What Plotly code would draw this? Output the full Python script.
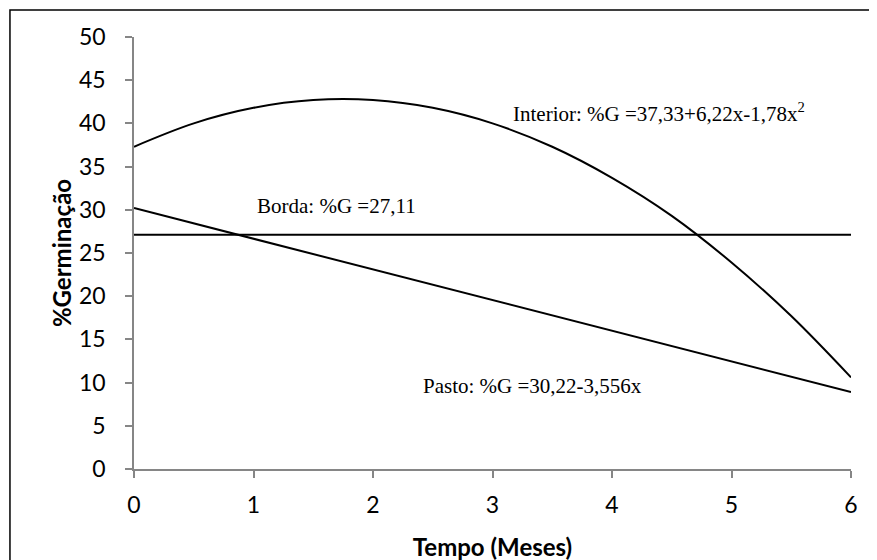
import plotly.graph_objects as go

# Data
tempo = [0, 0.5, 1, 1.5, 2, 2.5, 3, 3.5, 4, 4.5, 5, 5.5, 6]
interior = [37.3, 40.0, 41.8, 42.7, 42.7, 41.8, 40.0, 37.3, 33.7, 29.3, 23.9, 17.7, 10.6]
pasto_x = [0, 6]
pasto = [30.2, 8.9]
borda_x = [0, 6]
borda = [27.1, 27.1]

x_ticks = [0, 1, 2, 3, 4, 5, 6]
y_ticks = [0, 5, 10, 15, 20, 25, 30, 35, 40, 45, 50]

label_interior = "Interior: %G =37,33+6,22x-1,78x<sup>2</sup>"
label_borda = "Borda: %G =27,11"
label_pasto = "Pasto: %G =30,22-3,556x"

fig = go.Figure()
line_style = dict(color="black", width=2)
fig.add_trace(go.Scatter(x=tempo, y=interior, mode="lines", line=dict(**line_style, shape="spline"), showlegend=False))
fig.add_trace(go.Scatter(x=borda_x, y=borda, mode="lines", line=line_style, showlegend=False))
fig.add_trace(go.Scatter(x=pasto_x, y=pasto, mode="lines", line=line_style, showlegend=False))

ann_font = dict(family="Liberation Serif, Times New Roman, serif", size=21, color="black")
for text, ax, ay in [(label_interior, 3.155, 41.3), (label_borda, 1.015, 30.4), (label_pasto, 2.405, 9.6)]:
    fig.add_annotation(x=ax, y=ay, text=text, showarrow=False, xanchor="left", yanchor="middle",
                       font=ann_font, xref="x", yref="y")

# outer border of the chart image
fig.add_shape(type="rect", xref="paper", yref="paper", x0=-0.173, x1=1.2, y0=-0.4, y1=1.0625,
              line=dict(color="black", width=1.5), fillcolor="rgba(0,0,0,0)", layer="above")

axis_col = "#868686"
fig.update_layout(
    width=869, height=560,
    margin=dict(l=126, r=26, t=29, b=99),
    paper_bgcolor="white", plot_bgcolor="white",
    font=dict(family="Lato, Carlito, Calibri, sans-serif", color="black"),
    xaxis=dict(range=[0, 6], tickvals=x_ticks, ticktext=[str(v) for v in x_ticks],
               showgrid=False, zeroline=False, showline=True, linecolor=axis_col, linewidth=1.5,
               ticks="outside", ticklen=7, tickcolor=axis_col, tickwidth=1.5,
               tickfont=dict(size=23, color="black"), ticklabelstandoff=8,
               title=dict(text="<b>Tempo (Meses)</b>", font=dict(size=24, color="black"), standoff=22)),
    yaxis=dict(range=[0, 50], tickvals=y_ticks, ticktext=[str(v) for v in y_ticks],
               showgrid=False, zeroline=False, showline=True, linecolor=axis_col, linewidth=1.5,
               ticks="outside", ticklen=7, tickcolor=axis_col, tickwidth=1.5,
               tickfont=dict(size=23, color="black"), ticklabelstandoff=15,
               title=dict(text="<b>%Germinação</b>", font=dict(size=24, color="black"), standoff=1)),
)

fig.write_html("out.html")
